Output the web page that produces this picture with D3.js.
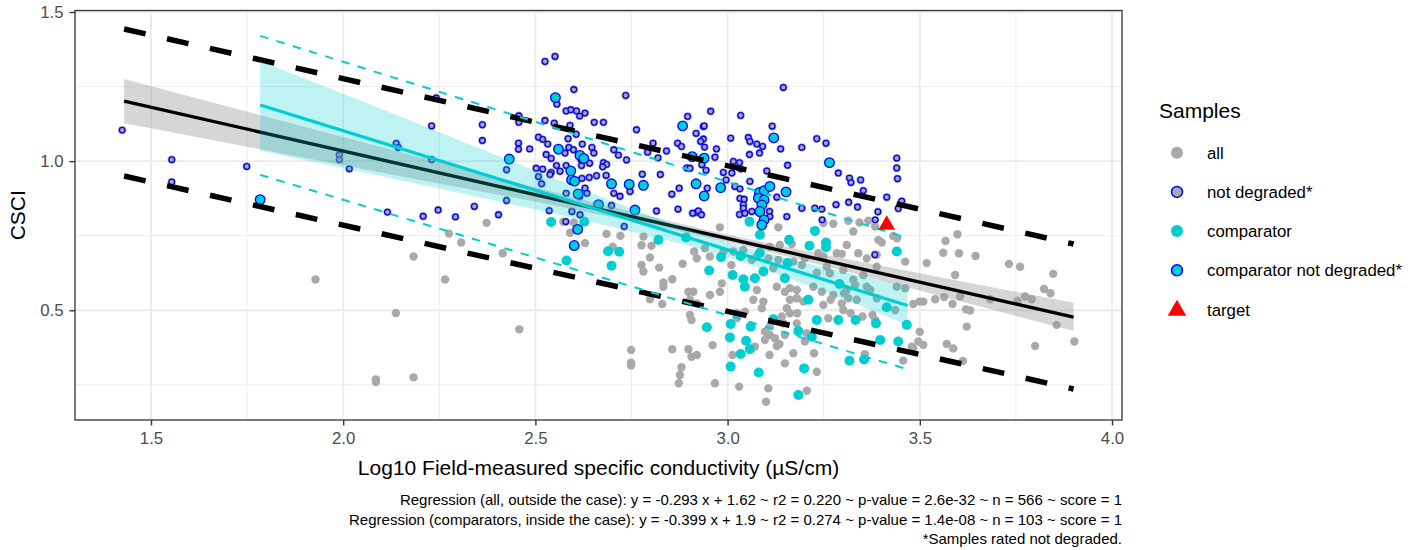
<!DOCTYPE html>
<html lang="en">
<head>
<meta charset="UTF-8">
<title>CSCI vs specific conductivity</title>
<script src="https://d3js.org/d3.v7.min.js"></script>
<style>
  body { margin: 0; background: #fff; }
  svg { display: block; font-family: "Liberation Sans", Arial, sans-serif; }
</style>
</head>
<body>
<svg id="chart" width="1420" height="550"></svg>
<script>
// ---- data (x = log10 conductivity, y = CSCI) ----

// all samples outside the case (grey)
const allPts = [
  [1.928,0.603],[2.137,0.491],[2.085,0.268],[2.085,0.259],[2.183,0.275],[2.183,0.680],[2.275,0.757],[2.307,0.727],[2.265,0.603],[2.458,0.436],
  [2.373,0.793],[2.573,0.797],[2.600,0.794],[2.415,0.691],[2.590,0.760],[2.629,0.725],[2.685,0.756],[2.721,0.750],[2.701,0.713],[2.781,0.747],
  [2.776,0.718],[2.802,0.716],[2.798,0.677],[2.822,0.643],[2.776,0.652],[2.781,0.630],[2.833,0.593],[2.833,0.579],[2.856,0.604],[2.798,0.537],
  [2.830,0.521],[2.883,0.656],[2.898,0.562],[2.902,0.484],[2.749,0.367],[2.749,0.324],[2.749,0.315],[2.856,0.369],[2.898,0.369],[2.880,0.309],
  [2.876,0.283],[2.873,0.255],
  [2.980,0.778],[3.132,0.778],[3.275,0.790],[3.327,0.764],[3.310,0.719],[3.340,0.691],[3.392,0.736],[3.401,0.727],[3.431,0.749],[3.462,0.663],
  [3.518,0.658],[3.388,0.686],[3.388,0.646],[3.362,0.674],[3.297,0.689],[3.284,0.691],[3.236,0.691],[3.249,0.680],
  [2.913,0.697],[2.941,0.708],[2.954,0.680],[2.920,0.674],[2.989,0.697],[3.015,0.697],[3.041,0.702],[3.076,0.680],[3.063,0.669],[3.110,0.713],
  [3.136,0.719],[3.167,0.722],[3.106,0.674],[3.132,0.669],[3.119,0.641],[3.171,0.663],[3.193,0.652],[3.201,0.674],[3.232,0.626],[3.266,0.624],
  [3.301,0.635],[3.327,0.602],[3.332,0.585],[3.310,0.568],[3.353,0.618],[3.371,0.568],[3.388,0.540],[3.440,0.579],[3.462,0.574],[3.500,0.529],
  [3.509,0.529],[3.483,0.521],
  [2.911,0.562],[2.954,0.551],[2.902,0.535],[2.920,0.523],[2.985,0.590],[2.980,0.562],[3.076,0.568],[3.067,0.535],[3.093,0.529],[3.089,0.507],
  [3.128,0.579],[3.149,0.562],[3.162,0.574],[3.180,0.568],[3.162,0.535],[3.180,0.540],[3.197,0.529],[3.245,0.562],[3.249,0.518],[3.275,0.551],
  [3.297,0.523],[3.314,0.540],[3.336,0.535],[3.154,0.507],[3.141,0.479],[3.162,0.490],[3.045,0.495],[3.024,0.490],[3.024,0.473],[3.262,0.473],
  [3.384,0.467],
  [3.500,0.428],[3.496,0.395],[3.479,0.378],[3.509,0.384],[3.110,0.445],[3.110,0.417],[3.123,0.406],[3.128,0.380],[3.097,0.428],[3.097,0.400],
  [2.906,0.467],[2.906,0.344],[2.920,0.350],[2.961,0.383],[3.071,0.378],[3.013,0.350],[3.201,0.395],[3.225,0.356],[3.109,0.350],[3.232,0.294],
  [3.457,0.331],[2.967,0.255],[3.030,0.244],[3.106,0.238],[3.100,0.193],[3.206,0.230],[3.135,0.387],[3.149,0.417],
  [3.010,0.652],[3.145,0.456],[3.180,0.456],[3.171,0.356],[3.149,0.322],
  [3.249,0.792],[3.314,0.800],[3.343,0.794],[3.366,0.800],[3.384,0.781],
  [3.258,0.646],[3.303,0.557],[3.268,0.535],[3.362,0.579],[3.436,0.501],[3.320,0.490],[3.301,0.501],[3.351,0.479],[3.377,0.484],[3.223,0.579],
  [3.181,0.490],[3.206,0.423],[3.357,0.353],[3.483,0.372],[3.441,0.741],
  [3.598,0.755],[3.567,0.732],[3.561,0.693],[3.602,0.691],[3.645,0.682],[3.592,0.618],[3.540,0.537],[3.563,0.544],[3.585,0.521],[3.605,0.546],
  [3.620,0.503],[3.631,0.499],[3.622,0.445],[3.683,0.537],[3.732,0.655],[3.761,0.646],[3.754,0.532],[3.774,0.546],[3.791,0.537],[3.823,0.571],
  [3.840,0.557],[3.847,0.622],[3.856,0.451],[3.902,0.395],[3.800,0.380],[3.570,0.387],[3.587,0.372],[3.612,0.330]
];

// samples rated not degraded (grey fill, blue ring)
const notDegradedPts = [
  [1.425,1.104],[1.554,1.005],[1.554,0.930],[1.749,0.982],[1.990,1.021],[1.990,1.005],[2.016,0.974],[2.138,1.059],[2.143,1.046],[2.230,1.118],
  [2.242,1.212],[2.230,1.005],[2.115,0.829],[2.208,0.815],[2.247,0.836],
  [2.525,1.334],[2.551,1.351],[2.600,1.240],[2.556,1.191],[2.735,1.220],[2.580,1.168],[2.592,1.172],[2.607,1.168],[2.629,1.161],[2.615,1.151],
  [2.457,1.152],[2.457,1.130],[2.362,1.122],[2.362,1.069],[2.525,1.136],[2.549,1.127],[2.590,1.120],[2.653,1.130],[2.677,1.130],[2.763,1.105],
  [2.508,1.080],[2.519,1.073],[2.532,1.057],[2.585,1.075],[2.606,1.090],[2.456,1.060],[2.456,1.040],[2.485,1.041],[2.528,1.022],[2.541,1.009],
  [2.555,0.985],[2.541,0.962],[2.577,1.027],[2.587,1.046],[2.599,1.038],[2.622,1.057],[2.647,1.046],[2.652,1.027],[2.619,1.004],[2.641,0.993],
  [2.620,0.985],[2.580,0.985],[2.502,0.976],[2.519,0.973],[2.538,0.955],[2.564,0.966],[2.508,0.948],[2.516,0.924],[2.677,0.995],[2.685,0.989],
  [2.675,0.981],[2.659,0.951],[2.640,0.945],[2.621,0.942],[2.684,0.952],[2.704,1.038],[2.716,1.020],[2.737,1.004],[2.778,0.956],[2.792,1.030],
  [2.806,1.060],[2.819,1.011],[2.825,0.955],[2.841,1.034],[2.870,1.060],[2.880,1.049],[2.894,0.977],[2.896,1.150],[2.629,0.909],[2.634,0.892],
  [2.615,0.881],[2.580,0.892],[2.704,0.892],[2.720,0.882],[2.746,0.898],[2.874,0.909],[2.855,0.889],[2.425,0.971],[2.425,0.868],[2.341,0.848],
  [2.292,0.813],[2.404,0.820],[2.536,0.834],[2.595,0.831],[2.616,0.820],[2.698,0.851],[2.815,0.833],[2.871,0.839],[2.579,0.797],[2.731,0.781],
  [2.920,0.828],[2.937,1.116],
  [3.145,1.247],[2.956,1.167],[3.034,1.153],[2.939,1.118],[2.918,1.093],[2.937,1.074],[2.930,1.066],[2.940,1.047],[3.116,1.117],[3.008,1.077],
  [3.054,1.079],[3.058,1.066],[3.076,1.057],[3.091,1.049],[3.083,1.027],[3.138,1.041],[3.057,1.022],[2.971,1.041],[2.967,1.013],[3.015,0.999],
  [3.031,0.995],[3.034,0.974],[3.011,0.960],[2.933,0.988],[2.944,0.969],[2.989,0.962],[2.996,0.937],[3.058,0.932],[3.019,0.915],[3.102,0.967],
  [3.156,0.986],[3.193,1.046],[3.232,1.075],[3.256,1.060],[3.288,0.960],[3.317,0.943],[3.321,0.928],[3.346,0.937],[3.353,0.901],[3.282,0.854],
  [3.315,0.862],[3.338,0.846],[3.414,0.879],[3.440,1.010],[3.440,0.977],[3.442,0.941],[3.453,0.866],[3.444,0.841],[3.391,0.830],[3.384,0.803],
  [3.032,0.907],[3.032,0.875],[3.043,0.872],[3.041,0.854],[3.041,0.842],[3.031,0.821],[3.045,0.825],[3.063,0.831],[3.109,0.831],[3.128,0.879],
  [3.110,0.814],[3.154,0.814],[3.193,0.842],[3.227,0.842],[3.245,0.839],[3.246,0.803],[2.909,0.825],[2.924,0.833],[2.932,0.820],[2.947,0.909],
  [2.902,0.976],[3.383,0.686]
];

// comparator samples (cyan)
const comparatorPts = [
  [2.541,0.796],[2.627,0.797],[2.689,0.698],[2.718,0.696],[2.698,0.649],[2.581,0.667],[2.820,0.736],[2.892,0.744],
  [3.057,0.797],[3.227,0.766],[3.084,0.753],
  [3.160,0.736],[3.256,0.727],[3.256,0.711],[3.213,0.716],[3.440,0.697],[2.983,0.678],[3.034,0.682],[3.084,0.693],[2.952,0.633],
  [3.013,0.618],[3.041,0.604],[3.045,0.579],[3.071,0.607],[3.093,0.630],[3.149,0.607],[3.156,0.658],[3.291,0.588],[3.210,0.535],[3.414,0.510],
  [3.466,0.451],[2.946,0.443],[3.008,0.454],[3.006,0.409],[3.060,0.445],[3.119,0.470],[3.232,0.467],[3.288,0.467],[3.333,0.467],[3.386,0.456],
  [3.184,0.430],[3.219,0.411],[3.048,0.398],[3.058,0.369],[3.034,0.353],[3.397,0.400],[3.444,0.395],[3.317,0.331],[3.355,0.335],[3.008,0.311],
  [3.081,0.291],[3.199,0.305],[3.184,0.216]
];

// comparator samples rated not degraded (cyan, blue ring)
const comparatorNDPts = [
  [1.784,0.871],[2.552,1.213],[2.432,1.007],[2.560,1.040],[2.616,1.019],[2.626,1.009],[2.592,0.967],[2.594,0.937],[2.602,0.933],[2.698,0.924],
  [2.744,0.922],[2.781,0.919],[2.883,1.118],[2.611,0.890],[2.664,0.854],[2.759,0.836],[2.610,0.771],[2.601,0.717],
  [2.908,1.015],[2.939,1.010],[2.918,0.924],[2.939,0.883],[2.982,0.911],[3.120,1.078],[3.265,0.995],[3.152,0.897],
  [3.083,0.895],[3.095,0.901],[3.110,0.915],[3.080,0.876],[3.095,0.870],[3.089,0.853],[3.084,0.831],[3.095,0.803],[3.089,0.786]
];

const targetPts = [[3.414, 0.786]];

// regression (all, outside the case): fit line, confidence band, prediction limits
const allFit = [[1.43, 1.201], [3.90, 0.477]];
const allBand = [ // [x, lower, upper]
  [1.43,1.127,1.275],[1.80,1.036,1.149],[2.20,0.937,1.013],[2.60,0.838,0.879],
  [2.95,0.744,0.768],[3.30,0.633,0.674],[3.60,0.532,0.599],[3.90,0.430,0.525]
];
const allPIUpper = [[1.43, 1.443], [3.90, 0.722]];
const allPILower = [[1.43, 0.950], [3.90, 0.236]];

// regression (comparators, inside the case)
const compFit = [[1.784, 1.188], [3.468, 0.516]];
const compBand = [
  [1.784,1.035,1.336],[2.10,0.949,1.175],[2.40,0.866,1.019],[2.70,0.779,0.866],
  [3.00,0.678,0.728],[3.20,0.587,0.660],[3.468,0.451,0.581]
];
const compPIUpper = [[1.784, 1.420], [3.468, 0.742]];
const compPILower = [[1.784, 0.954], [3.468, 0.302]];

const xTicks = [1.5, 2.0, 2.5, 3.0, 3.5, 4.0];
const xMinor = [1.75, 2.25, 2.75, 3.25, 3.75];
const yTicks = [0.5, 1.0, 1.5];
const yMinor = [0.25, 0.75, 1.25];

const legendItems = ["all", "not degraded*", "comparator", "comparator not degraded*", "target"];
const captionLines = [
  "Regression (all, outside the case): y = -0.293 x + 1.62 ~ r2 = 0.220 ~ p-value = 2.6e-32 ~ n = 566 ~ score = 1",
  "Regression (comparators, inside the case): y = -0.399 x + 1.9 ~ r2 = 0.274 ~ p-value = 1.4e-08 ~ n = 103 ~ score = 1",
  "*Samples rated not degraded."
];

// ---- drawing ----
const GREY = "#A9A9A9", CYAN = "#00CED1", BLUE = "#0000FF";
const panel = { left: 75, right: 1122, top: 10.5, bottom: 420 };

const svg = d3.select("#chart");
svg.append("rect").attr("width", 1420).attr("height", 550).attr("fill", "#fff");

const x = d3.scaleLinear().domain([1.3023, 4.026]).range([panel.left, panel.right]);
const y = d3.scaleLinear().domain([0.132, 1.505]).range([panel.bottom, panel.top]);

// grid
const grid = svg.append("g");
grid.selectAll(".xmin").data(xMinor).join("line")
  .attr("x1", d => x(d)).attr("x2", d => x(d)).attr("y1", panel.top).attr("y2", panel.bottom)
  .attr("stroke", "#EBEBEB").attr("stroke-width", 0.9);
grid.selectAll(".ymin").data(yMinor).join("line")
  .attr("y1", d => y(d)).attr("y2", d => y(d)).attr("x1", panel.left).attr("x2", panel.right)
  .attr("stroke", "#EBEBEB").attr("stroke-width", 0.9);
grid.selectAll(".xmaj").data(xTicks).join("line")
  .attr("x1", d => x(d)).attr("x2", d => x(d)).attr("y1", panel.top).attr("y2", panel.bottom)
  .attr("stroke", "#EBEBEB").attr("stroke-width", 1.8);
grid.selectAll(".ymaj").data(yTicks).join("line")
  .attr("y1", d => y(d)).attr("y2", d => y(d)).attr("x1", panel.left).attr("x2", panel.right)
  .attr("stroke", "#EBEBEB").attr("stroke-width", 1.8);

// points: every sample gets a grey dot, subsets are overlaid
const pts = svg.append("g");
pts.selectAll(".all").data(allPts.concat(notDegradedPts)).join("circle")
  .attr("cx", d => x(d[0])).attr("cy", d => y(d[1])).attr("r", 4.2).attr("fill", GREY);
pts.selectAll(".nd").data(notDegradedPts).join("circle")
  .attr("cx", d => x(d[0])).attr("cy", d => y(d[1])).attr("r", 2.8)
  .attr("fill", GREY).attr("stroke", BLUE).attr("stroke-width", 1.3);
pts.selectAll(".cmp").data(comparatorPts).join("circle")
  .attr("cx", d => x(d[0])).attr("cy", d => y(d[1])).attr("r", 5).attr("fill", CYAN);
pts.selectAll(".cnd").data(comparatorNDPts).join("circle")
  .attr("cx", d => x(d[0])).attr("cy", d => y(d[1])).attr("r", 4.8)
  .attr("fill", CYAN).attr("stroke", BLUE).attr("stroke-width", 1.3);

// regression layers
const line = d3.line().x(d => x(d[0])).y(d => y(d[1]));
const area = d3.area().x(d => x(d[0])).y0(d => y(d[1])).y1(d => y(d[2])).curve(d3.curveMonotoneX);

svg.append("path").datum(allBand).attr("d", area).attr("fill", "#999999").attr("fill-opacity", 0.4);
svg.append("path").datum(allFit).attr("d", line).attr("fill", "none").attr("stroke", "#000").attr("stroke-width", 3.3);
[allPIUpper, allPILower].forEach(seg => {
  svg.append("path").datum(seg).attr("d", line).attr("fill", "none")
    .attr("stroke", "#000").attr("stroke-width", 5.5).attr("stroke-dasharray", "22,22");
});

svg.append("path").datum(compBand).attr("d", area).attr("fill", CYAN).attr("fill-opacity", 0.25);
svg.append("path").datum(compFit).attr("d", line).attr("fill", "none").attr("stroke", CYAN).attr("stroke-width", 3.3);
[compPIUpper, compPILower].forEach(seg => {
  svg.append("path").datum(seg).attr("d", line).attr("fill", "none")
    .attr("stroke", CYAN).attr("stroke-width", 2).attr("stroke-dasharray", "8.5,8.5");
});

// target
const tri = d3.symbol().type(d3.symbolTriangle).size(120);
svg.selectAll(".target").data(targetPts).join("path")
  .attr("d", tri).attr("transform", d => `translate(${x(d[0])},${y(d[1])})`).attr("fill", "#FF0000");

// panel border
svg.append("rect").attr("x", panel.left).attr("y", panel.top)
  .attr("width", panel.right - panel.left).attr("height", panel.bottom - panel.top)
  .attr("fill", "none").attr("stroke", "#333333").attr("stroke-width", 1.3);

// axes
const fmt = d3.format(".1f");
const xAxis = svg.append("g").attr("transform", `translate(0,${panel.bottom})`)
  .call(d3.axisBottom(x).tickValues(xTicks).tickFormat(fmt).tickSize(5.5).tickPadding(7));
const yAxis = svg.append("g").attr("transform", `translate(${panel.left},0)`)
  .call(d3.axisLeft(y).tickValues(yTicks).tickFormat(fmt).tickSize(5.5).tickPadding(6));
[xAxis, yAxis].forEach(a => {
  a.select(".domain").remove();
  a.selectAll(".tick line").attr("stroke", "#333333").attr("stroke-width", 1.4);
  a.selectAll(".tick text").attr("fill", "#4D4D4D").attr("font-size", 16.8)
    .attr("font-family", "Liberation Sans, Arial, sans-serif");
});

svg.append("text").attr("x", (panel.left + panel.right) / 2).attr("y", 475)
  .attr("text-anchor", "middle").attr("font-size", 21).attr("fill", "#000")
  .text("Log10 Field-measured specific conductivity (µS/cm)");
svg.append("text").attr("transform", `translate(25,${(panel.top + panel.bottom) / 2}) rotate(-90)`)
  .attr("text-anchor", "middle").attr("font-size", 21).attr("fill", "#000").text("CSCI");

// caption
svg.append("g").selectAll("text").data(captionLines).join("text")
  .attr("x", panel.right).attr("y", (d, i) => 505 + i * 19.5)
  .attr("text-anchor", "end").attr("font-size", 15).attr("fill", "#000").text(d => d);

// legend
const lg = svg.append("g");
lg.append("text").attr("x", 1159).attr("y", 118).attr("font-size", 21).attr("fill", "#000").text("Samples");
const row = i => 152.7 + i * 39.2;
const keyX = 1177;
lg.selectAll(".lab").data(legendItems).join("text")
  .attr("x", 1207).attr("y", (d, i) => row(i) + 6).attr("font-size", 16.8).attr("fill", "#000").text(d => d);
lg.append("circle").attr("cx", keyX).attr("cy", row(0)).attr("r", 6).attr("fill", GREY);
lg.append("circle").attr("cx", keyX).attr("cy", row(1)).attr("r", 5.5).attr("fill", GREY).attr("stroke", BLUE).attr("stroke-width", 1.5);
lg.append("circle").attr("cx", keyX).attr("cy", row(2)).attr("r", 6).attr("fill", CYAN);
lg.append("circle").attr("cx", keyX).attr("cy", row(3)).attr("r", 5.5).attr("fill", CYAN).attr("stroke", BLUE).attr("stroke-width", 1.5);
lg.append("path").attr("d", d3.symbol().type(d3.symbolTriangle).size(150))
  .attr("transform", `translate(${keyX},${row(4) + 1})`).attr("fill", "#FF0000");
</script>
</body>
</html>
